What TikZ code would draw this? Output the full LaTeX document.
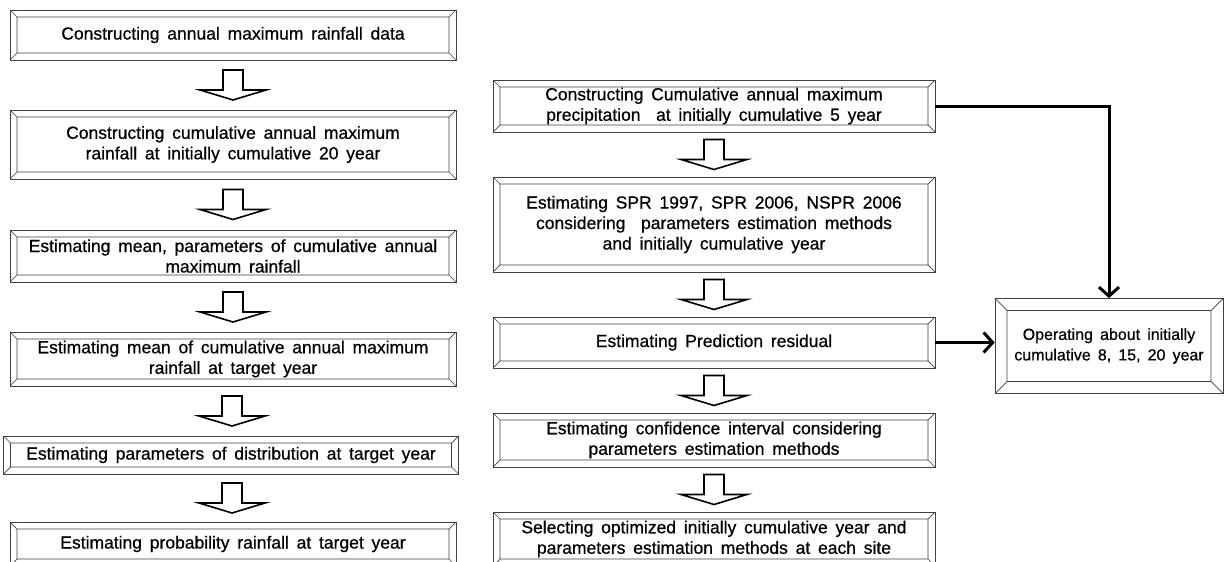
\documentclass[tikz,border=0pt]{standalone}
\usepackage{fontspec}
\setmainfont{Liberation Sans}[WordSpace=1.6, FakeBold=0.6]
\usetikzlibrary{arrows.meta,calc}

\tikzset{
  blockarr/.pic={
    \draw[line width=1.6pt, fill=white] (-10,-15) -- (-10,5) -- (-33,5) -- (0,15)
      -- (33,5) -- (10,5) -- (10,-15) -- cycle;
  }
}

\begin{document}
\begin{tikzpicture}[x=1pt, y=-1pt,
    every node/.style={font=\fontsize{17.5}{20.5}\selectfont},
    bevelbox/.style={draw=black!75, line width=0.7pt, fill=white, align=center, inner sep=0pt,
      path picture={
        \draw[black!75, line width=0.7pt]
          ([shift={(#1,#1)}]path picture bounding box.south west) rectangle
          ([shift={(-#1,-#1)}]path picture bounding box.north east)
          (path picture bounding box.south west) -- ++(#1,#1)
          (path picture bounding box.south east) -- ++(-#1,#1)
          (path picture bounding box.north west) -- ++(#1,-#1)
          (path picture bounding box.north east) -- ++(-#1,-#1);
      }},
    bevelbox/.default=7pt,
    link/.style={line width=3pt, -{Straight Barb[length=9pt,width=20pt]}}]
      \useasboundingbox (0,0) rectangle (1224,562);
      % left column
      \node at (233,35)[bevelbox, minimum width=446, minimum height=50] (l1){Constructing annual maximum rainfall data};
      \node at (233,144.5)[bevelbox, minimum width=446, minimum height=69] (l2){Constructing cumulative annual maximum\\rainfall at initially cumulative 20 year};
      \node at (233,256)[bevelbox, minimum width=446, minimum height=52] (l3){Estimating mean, parameters of cumulative annual\\maximum rainfall};
      \node at (233,359)[bevelbox, minimum width=446, minimum height=54] (l4){Estimating mean of cumulative annual maximum\\rainfall at target year};
      \node at (231,455)[bevelbox, minimum width=455, minimum height=38] (l5){Estimating parameters of distribution at target year};
      \node at (233,544)[bevelbox, minimum width=446, minimum height=44] (l6){Estimating probability rainfall at target year};
      % middle column
      \node at (714,106)[bevelbox, minimum width=442, minimum height=52] (m1){Constructing Cumulative annual maximum\\precipitation \ at initially cumulative 5 year};
      \node at (714,224.5)[bevelbox, minimum width=442, minimum height=95] (m2){Estimating SPR 1997, SPR 2006, NSPR 2006\\considering \ parameters estimation methods\\and initially cumulative year};
      \node at (714,342.5)[bevelbox, minimum width=442, minimum height=51] (m3){Estimating Prediction residual};
      \node at (714,440)[bevelbox, minimum width=442, minimum height=54] (m4){Estimating confidence interval considering\\parameters estimation methods};
      \node at (714,539)[bevelbox, minimum width=442, minimum height=54] (m5){Selecting optimized initially cumulative year and\\parameters estimation methods at each site};
      % right box
      \node at (1109,346)[bevelbox=12pt, minimum width=228, minimum height=95, font=\fontsize{16}{20.5}\selectfont] (r){Operating about initially\\cumulative 8, 15, 20 year};
      % block arrows
      \pic at ($(l1.south)!0.5!(l2.north)$) {blockarr};
      \pic at ($(l2.south)!0.5!(l3.north)$) {blockarr};
      \pic at ($(l3.south)!0.5!(l4.north)$) {blockarr};
      \pic at ($(l4.south)!0.5!(l5.north)$) {blockarr};
      \pic at ($(l5.south)!0.5!(l6.north)$) {blockarr};
      \pic at ($(m1.south)!0.5!(m2.north)$) {blockarr};
      \pic at ($(m2.south)!0.5!(m3.north)$) {blockarr};
      \pic at ($(m3.south)!0.5!(m4.north)$) {blockarr};
      \pic at ($(m4.south)!0.5!(m5.north)$) {blockarr};
      % connectors
      \draw[link] (m1) -| (r);
      \draw[link] (m3.east) -- (m3.east -| r.west);
\end{tikzpicture}
\end{document}
